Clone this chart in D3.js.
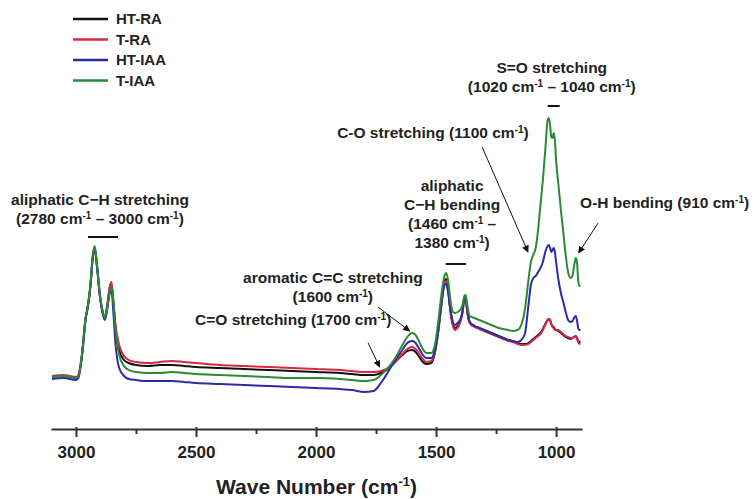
<!DOCTYPE html>
<html>
<head>
<meta charset="utf-8">
<script src="https://cdn.jsdelivr.net/npm/d3@7"></script>
<style>
  body { margin: 0; background: #fff; }
  svg { display: block; font-family: "Liberation Sans", Arial, sans-serif; }
</style>
</head>
<body>
<div id="chart"></div>
<script>
// wave numbers (cm-1) shared by all four spectra
const wavenumber = [
  3100, 3050, 3000, 2990, 2975, 2960, 2950, 2940, 2930, 2922,
  2912, 2900, 2890, 2880, 2870, 2860, 2852, 2845, 2835, 2820,
  2800, 2780, 2750, 2700, 2650, 2600, 2550, 2500, 2400, 2300,
  2200, 2100, 2000, 1900, 1850, 1800, 1760, 1730, 1700, 1670,
  1640, 1620, 1600, 1585, 1570, 1555, 1540, 1520, 1505, 1490,
  1475, 1465, 1458, 1450, 1440, 1430, 1420, 1410, 1400, 1390,
  1382, 1377, 1370, 1360, 1340, 1320, 1300, 1280, 1260, 1240,
  1220, 1200, 1180, 1160, 1145, 1130, 1115, 1105, 1095, 1085,
  1075, 1065, 1055, 1045, 1035, 1030, 1025, 1020, 1015, 1010,
  1005, 1000, 990, 980, 970, 960, 950, 940, 932, 925,
  918, 913, 908, 903, 900
];

// absorbance (a.u.)
const htRA = [
  0.23, 0.24, 0.22, 0.24, 0.45, 0.81, 0.94, 1.14, 1.43, 1.52,
  1.33, 1.04, 0.89, 0.81, 0.93, 1.10, 1.15, 1.00, 0.72, 0.50,
  0.40, 0.37, 0.35, 0.34, 0.35, 0.35, 0.34, 0.33, 0.32, 0.31,
  0.30, 0.29, 0.28, 0.27, 0.26, 0.25, 0.25, 0.27, 0.31, 0.38,
  0.45, 0.49, 0.50, 0.48, 0.43, 0.38, 0.36, 0.37, 0.47, 0.70,
  1.02, 1.19, 1.21, 1.12, 0.90, 0.76, 0.72, 0.74, 0.78, 0.88,
  1.02, 1.03, 0.89, 0.78, 0.74, 0.72, 0.70, 0.68, 0.66, 0.64,
  0.62, 0.60, 0.59, 0.57, 0.56, 0.56, 0.57, 0.59, 0.61, 0.63,
  0.65, 0.67, 0.71, 0.76, 0.80, 0.81, 0.80, 0.76, 0.74, 0.73,
  0.71, 0.70, 0.69, 0.67, 0.65, 0.63, 0.62, 0.61, 0.62, 0.63,
  0.64, 0.62, 0.59, 0.58, 0.59
];
const tRA = [
  0.24, 0.25, 0.23, 0.25, 0.46, 0.82, 0.95, 1.13, 1.42, 1.50,
  1.32, 1.04, 0.90, 0.82, 0.95, 1.13, 1.18, 1.02, 0.75, 0.55,
  0.44, 0.40, 0.38, 0.37, 0.38, 0.39, 0.38, 0.37, 0.35, 0.34,
  0.33, 0.32, 0.31, 0.30, 0.29, 0.28, 0.28, 0.29, 0.32, 0.38,
  0.46, 0.51, 0.53, 0.51, 0.46, 0.41, 0.38, 0.39, 0.48, 0.70,
  1.00, 1.17, 1.19, 1.10, 0.88, 0.74, 0.70, 0.72, 0.77, 0.87,
  1.01, 1.02, 0.88, 0.77, 0.73, 0.71, 0.69, 0.67, 0.65, 0.63,
  0.61, 0.59, 0.58, 0.56, 0.55, 0.55, 0.56, 0.58, 0.60, 0.62,
  0.64, 0.66, 0.70, 0.75, 0.80, 0.81, 0.80, 0.76, 0.73, 0.72,
  0.70, 0.70, 0.70, 0.68, 0.66, 0.64, 0.63, 0.62, 0.62, 0.63,
  0.64, 0.62, 0.58, 0.56, 0.57
];
const htIAA = [
  0.21, 0.22, 0.20, 0.22, 0.44, 0.80, 0.94, 1.13, 1.43, 1.52,
  1.33, 1.03, 0.88, 0.80, 0.90, 1.06, 1.10, 0.90, 0.55, 0.32,
  0.24, 0.21, 0.20, 0.19, 0.19, 0.19, 0.18, 0.17, 0.16, 0.15,
  0.14, 0.13, 0.12, 0.11, 0.10, 0.08, 0.09, 0.17, 0.28, 0.40,
  0.50, 0.57, 0.59, 0.57, 0.51, 0.45, 0.42, 0.42, 0.50, 0.72,
  1.02, 1.15, 1.16, 1.08, 0.90, 0.78, 0.75, 0.77, 0.80, 0.88,
  1.02, 1.03, 0.90, 0.78, 0.74, 0.72, 0.70, 0.68, 0.66, 0.64,
  0.62, 0.60, 0.59, 0.58, 0.60, 0.66, 0.95, 1.15, 1.22, 1.24,
  1.28, 1.32, 1.38, 1.48, 1.54, 1.55, 1.52, 1.48, 1.50, 1.52,
  1.48, 1.38, 1.20, 1.07, 0.98, 0.88, 0.80, 0.78, 0.79, 0.82,
  0.84, 0.80, 0.72, 0.70, 0.71
];
const tIAA = [
  0.23, 0.24, 0.22, 0.24, 0.45, 0.82, 0.95, 1.15, 1.45, 1.54,
  1.35, 1.05, 0.90, 0.82, 0.92, 1.08, 1.14, 1.00, 0.70, 0.45,
  0.34, 0.30, 0.28, 0.27, 0.27, 0.28, 0.27, 0.26, 0.25, 0.24,
  0.23, 0.22, 0.22, 0.21, 0.20, 0.19, 0.20, 0.25, 0.32, 0.42,
  0.55, 0.63, 0.67, 0.65, 0.58, 0.51, 0.47, 0.47, 0.55, 0.80,
  1.10, 1.24, 1.27, 1.20, 1.00, 0.88, 0.87, 0.88, 0.90, 0.95,
  1.04, 1.05, 0.95, 0.84, 0.82, 0.80, 0.78, 0.76, 0.74, 0.72,
  0.71, 0.70, 0.69, 0.70, 0.75, 0.90, 1.20, 1.38, 1.45, 1.52,
  1.70, 1.95, 2.20, 2.50, 2.80, 2.82, 2.75, 2.63, 2.62, 2.67,
  2.60, 2.40, 2.15, 1.90, 1.68, 1.45, 1.28, 1.22, 1.24, 1.34,
  1.42, 1.38, 1.20, 1.14, 1.15
];

const seriesNames = ["HT-RA", "T-RA", "HT-IAA", "T-IAA"];
const seriesColors = ["#111111", "#d42a45", "#2b2ba8", "#2a8a35"];
const seriesValues = [htRA, tRA, htIAA, tIAA];

const xTicks = [3000, 2500, 2000, 1500, 1000];
const xMinorTicks = [2750, 2250, 1750, 1250];

// annotation labels: text lines, anchor wave number / absorbance
const bandLabels = [
  { lines: ["aliphatic C\u2212H stretching", "(2780 cm^{-1} \u2013 3000 cm^{-1})"], w: 2900, a: 1.95, anchor: "middle" },
  { lines: ["S=O stretching", "(1020 cm^{-1} \u2013 1040 cm^{-1})"], w: 1018, a: 3.27, anchor: "middle" },
  { lines: ["C-O stretching (1100 cm^{-1})"], w: 1513, a: 2.62, anchor: "middle" },
  { lines: ["aliphatic", "C\u2212H bending", "(1460 cm^{-1} \u2013", "1380 cm^{-1})"], w: 1433, a: 2.09, anchor: "middle" },
  { lines: ["O-H bending (910 cm^{-1})"], w: 900, a: 1.92, anchor: "start" },
  { lines: ["aromatic C=C stretching", "(1600 cm^{-1})"], w: 1930, a: 1.17, anchor: "middle" },
  { lines: ["C=O stretching (1700 cm^{-1})"], w: 2095, a: 0.75, anchor: "middle" }
];
// range bars under labels
const bandBars = [
  { from: 2950, to: 2825, a: 1.63 },
  { from: 1035, to: 985, a: 2.94 },
  { from: 1460, to: 1375, a: 1.36 }
];
// arrows: start -> tip
const bandArrows = [
  { w1: 1308, a1: 2.53, w2: 1117, a2: 1.48 },
  { w1: 825, a1: 1.77, w2: 906, a2: 1.47 },
  { w1: 1742, a1: 0.93, w2: 1610, a2: 0.69 },
  { w1: 1783, a1: 0.57, w2: 1735, a2: 0.33 }
];

const width = 755, height = 499;

const svg = d3.select("#chart")
  .append("svg")
  .attr("width", width)
  .attr("height", height);

const xScale = d3.scaleLinear().domain([3104, 892]).range([51, 582]);
const yScale = d3.scaleLinear().domain([0, 3]).range([400, 100]);
const axisY = 429;

svg.append("defs").append("marker")
  .attr("id", "arrow")
  .attr("viewBox", "0 0 10 10")
  .attr("refX", 9).attr("refY", 5)
  .attr("markerWidth", 8).attr("markerHeight", 7)
  .attr("markerUnits", "userSpaceOnUse")
  .attr("orient", "auto")
  .append("path")
  .attr("d", "M0,0 L10,5 L0,10 Z")
  .attr("fill", "#111");

// spectra
const line = d3.line()
  .x(d => xScale(d[0]))
  .y(d => yScale(d[1]))
  .curve(d3.curveMonotoneX);

seriesValues.forEach((vals, i) => {
  svg.append("path")
    .datum(wavenumber.map((w, j) => [w, vals[j]]))
    .attr("fill", "none")
    .attr("stroke", seriesColors[i])
    .attr("stroke-width", 2)
    .attr("stroke-linejoin", "round")
    .attr("d", line);
});

// x axis
const xAxis = svg.append("g")
  .attr("transform", `translate(0,${axisY})`)
  .call(d3.axisBottom(xScale).tickValues(xTicks).tickFormat(d3.format("d"))
    .tickSize(8).tickSizeOuter(0).tickPadding(9));
xAxis.select(".domain").attr("stroke", "#333").attr("stroke-width", 2);
xAxis.selectAll(".tick line").attr("stroke", "#333").attr("stroke-width", 2).attr("y1", -2);
xAxis.selectAll(".tick text")
  .attr("font-size", 17).attr("font-weight", "bold").attr("fill", "#222")
  .attr("font-family", "'Liberation Sans', Arial, sans-serif");

const xMinor = svg.append("g")
  .attr("transform", `translate(0,${axisY})`)
  .call(d3.axisBottom(xScale).tickValues(xMinorTicks).tickSize(5).tickFormat(""));
xMinor.select(".domain").remove();
xMinor.selectAll(".tick line").attr("stroke", "#333").attr("stroke-width", 2);

// axis title
const title = svg.append("text")
  .attr("x", (xScale.range()[0] + xScale.range()[1]) / 2)
  .attr("y", 494)
  .attr("text-anchor", "middle")
  .attr("font-size", 21)
  .attr("font-weight", "bold")
  .attr("fill", "#222");
title.append("tspan").text("Wave Number (cm");
title.append("tspan").attr("font-size", 13).attr("dy", -8).text("-1");
title.append("tspan").attr("dy", 8).text(")");

// text with ^{..} superscripts
function richText(sel, str) {
  const parts = str.split(/\^\{([^}]*)\}/);
  parts.forEach((p, k) => {
    if (p === "") return;
    if (k % 2 === 1) {
      sel.append("tspan").attr("font-size", 10).attr("dy", -5).text(p);
    } else {
      sel.append("tspan").attr("dy", k > 0 ? 5 : 0).text(p);
    }
  });
}

bandLabels.forEach(lab => {
  lab.lines.forEach((ln, k) => {
    const t = svg.append("text")
      .attr("x", xScale(lab.w))
      .attr("y", yScale(lab.a) + k * 19)
      .attr("text-anchor", lab.anchor)
      .attr("font-size", 15.5)
      .attr("font-weight", "bold")
      .attr("fill", "#222");
    richText(t, ln);
  });
});

svg.selectAll(".band-bar")
  .data(bandBars)
  .enter().append("line")
  .attr("class", "band-bar")
  .attr("x1", d => xScale(d.from))
  .attr("x2", d => xScale(d.to))
  .attr("y1", d => yScale(d.a))
  .attr("y2", d => yScale(d.a))
  .attr("stroke", "#111")
  .attr("stroke-width", 2);

svg.selectAll(".band-arrow")
  .data(bandArrows)
  .enter().append("line")
  .attr("class", "band-arrow")
  .attr("x1", d => xScale(d.w1))
  .attr("y1", d => yScale(d.a1))
  .attr("x2", d => xScale(d.w2))
  .attr("y2", d => yScale(d.a2))
  .attr("stroke", "#111")
  .attr("stroke-width", 1)
  .attr("marker-end", "url(#arrow)");

// legend
const legend = svg.append("g");
seriesNames.forEach((name, i) => {
  const y = 19 + i * 20.5;
  legend.append("line")
    .attr("x1", 73).attr("x2", 108)
    .attr("y1", y).attr("y2", y)
    .attr("stroke", seriesColors[i])
    .attr("stroke-width", 2.5);
  legend.append("text")
    .attr("x", 116).attr("y", y + 5)
    .attr("font-size", 15)
    .attr("font-weight", "bold")
    .attr("fill", "#222")
    .text(name);
});
</script>
</body>
</html>
